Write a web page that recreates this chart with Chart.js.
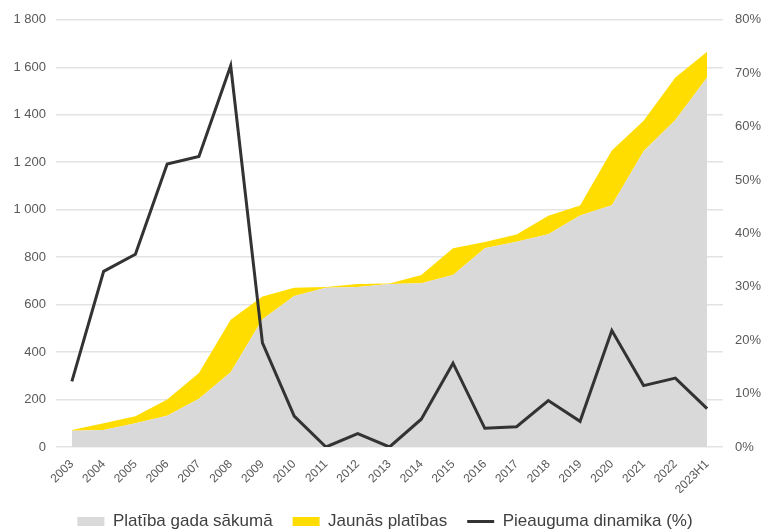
<!DOCTYPE html>
<html>
<head>
<meta charset="utf-8">
<script src="https://cdn.jsdelivr.net/npm/chart.js@4"></script>
<style>
    body { margin: 0; background: #ffffff; }
    #wrap { width: 762px; height: 530px; }
</style>
</head>
<body>
<div id="wrap"><canvas id="areaChart"></canvas></div>
<script>
const years = [
    '2003', '2004', '2005', '2006', '2007', '2008', '2009', '2010', '2011', '2012', '2013',
    '2014', '2015', '2016', '2017', '2018', '2019', '2020', '2021', '2022', '2023H1'
];
// platiba gada sakuma (tukst. m2)
const startArea = [68, 72, 100, 132, 203, 315, 538, 636, 671, 674, 687, 690, 725, 837, 865, 896, 975, 1019, 1246, 1378, 1557];
// jaunas platibas
const newArea = [4, 28, 30, 68, 109, 221, 96, 35, 3, 13, 2, 35, 112, 27, 30, 78, 43, 230, 129, 179, 108];
// pieauguma dinamika, %
const growth = [12.3, 32.9, 36.1, 53.0, 54.4, 71.4, 19.5, 5.8, 0, 2.5, 0, 5.2, 15.7, 3.5, 3.8, 8.7, 4.8, 21.8, 11.5, 12.9, 7.2];

const leftTicks = [0, 200, 400, 600, 800, 1000, 1200, 1400, 1600, 1800];

const data = {
    labels: years,
    datasets: [{
        label: 'Platība gada sākumā',
        data: startArea,
        backgroundColor: '#d9d9d9',
        borderColor: '#d9d9d9',
        borderWidth: 0,
        pointRadius: 0,
        pointStyle: 'rect',
        fill: 'origin',
        yAxisID: 'y',
        order: 1
    }, {
        label: 'Jaunās platības',
        data: newArea,
        backgroundColor: '#ffdd00',
        borderColor: '#ffdd00',
        borderWidth: 0,
        pointRadius: 0,
        pointStyle: 'rect',
        fill: '-1',
        yAxisID: 'y',
        order: 2
    }, {
        label: 'Pieauguma dinamika (%)',
        data: growth,
        borderColor: '#333333',
        backgroundColor: '#333333',
        borderWidth: 3,
        pointRadius: 0,
        pointStyle: 'line',
        fill: false,
        tension: 0,
        yAxisID: 'y1',
        order: 0
    }]
};

const config = {
    type: 'line',
    data: data,
    options: {
        responsive: true,
        maintainAspectRatio: false,
        animation: false,
        layout: {
            padding: { top: 6, bottom: -10, left: 8, right: 0 }
        },
        plugins: {
            legend: {
                display: true,
                position: 'bottom',
                labels: {
                    usePointStyle: true,
                    pointStyleWidth: 27,
                    boxHeight: 9,
                    padding: 20,
                    color: '#404040',
                    font: { family: 'Liberation Sans', size: 17 },
                    sort: (a, b) => a.datasetIndex - b.datasetIndex
                }
            },
            tooltip: { enabled: false }
        },
        scales: {
            x: {
                offset: true,
                grid: { display: false },
                border: { display: false },
                ticks: {
                    color: '#595959',
                    maxRotation: 45,
                    minRotation: 45,
                    autoSkip: false,
                    padding: 2,
                    font: { family: 'Liberation Sans', size: 12 }
                },
                afterFit: (scale) => { scale.height = 46; }
            },
            y: {
                stacked: true,
                position: 'left',
                min: 0,
                max: 1800,
                afterBuildTicks: (scale) => { scale.ticks = leftTicks.map(v => ({ value: v })); },
                grid: { color: '#e3e3e3', lineWidth: 1.5, drawTicks: false },
                border: { display: false },
                ticks: {
                    color: '#595959',
                    padding: 10,
                    font: { family: 'Liberation Sans', size: 13 },
                    callback: (v) => String(v).replace(/\B(?=(\d{3})+(?!\d))/g, ' ')
                },
                afterFit: (scale) => { scale.width = 48; }
            },
            y1: {
                position: 'right',
                min: 0,
                max: 80,
                grid: { display: false, drawTicks: false },
                border: { display: false },
                ticks: {
                    stepSize: 10,
                    color: '#595959',
                    padding: 12,
                    font: { family: 'Liberation Sans', size: 13 },
                    callback: (v) => v + '%'
                },
                afterFit: (scale) => { scale.width = 39; }
            }
        }
    }
};

var areaChart = new Chart(
    document.getElementById('areaChart'),
    config
);
</script>
</body>
</html>
